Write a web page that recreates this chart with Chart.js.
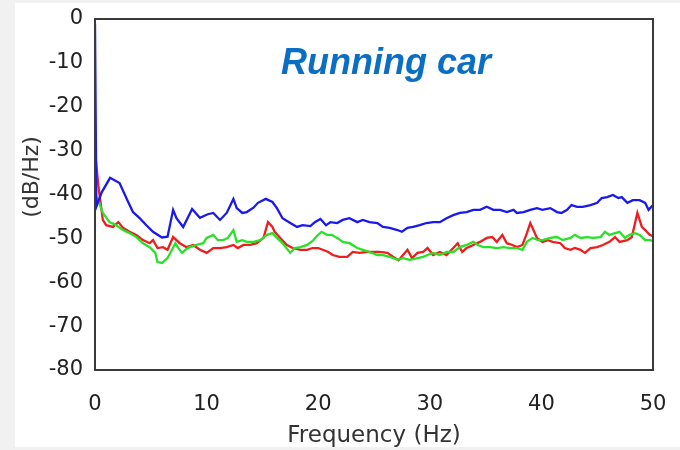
<!DOCTYPE html>
<html>
<head>
<meta charset="utf-8">
<script src="https://cdn.jsdelivr.net/npm/chart.js@4.4.1/dist/chart.umd.min.js"></script>
<style>
  html, body { margin: 0; padding: 0; background: #ffffff; }
  #wrap { width: 680px; height: 450px; }
</style>
</head>
<body>
<div id="wrap"><canvas id="c" width="680" height="450"></canvas></div>
<script>
// ---- data (frequency Hz, power dB/Hz) ----
const xTicks = [0, 10, 20, 30, 40, 50];
const yTicks = [0, -10, -20, -30, -40, -50, -60, -70, -80];
const chartTitle = 'Running car';
const xTitle = 'Frequency (Hz)';
const yTitle = '(dB/Hz)';

const blueSeries = [[0,-1],[0.12,-42.8],[0.6,-39.5],[1.35,-36.2],[2.2,-37.4],[2.9,-41.3],[3.4,-44.0],[4.0,-45.4],[4.6,-47.0],[5.2,-48.5],[6.0,-49.8],[6.5,-49.6],[7.0,-43.5],[7.3,-45.4],[7.9,-47.4],[8.7,-43.3],[9.4,-45.3],[10.1,-44.5],[10.6,-44.2],[11.2,-45.8],[11.8,-44.2],[12.4,-41.0],[12.7,-43.1],[13.2,-44.2],[13.6,-44.0],[14.2,-43.0],[14.6,-41.9],[15.3,-41.0],[15.9,-41.7],[16.3,-43.1],[16.8,-45.4],[17.5,-46.5],[18.1,-47.4],[18.6,-47.0],[19.3,-47.2],[19.7,-46.3],[20.2,-45.6],[20.7,-47.0],[21.1,-46.3],[21.7,-46.5],[22.2,-45.8],[22.8,-45.4],[23.5,-46.3],[24.0,-45.8],[24.6,-46.3],[25.3,-46.5],[25.8,-47.4],[26.4,-47.6],[27.1,-48.1],[27.5,-48.5],[28.0,-47.6],[28.5,-47.4],[29.1,-47.0],[29.7,-46.5],[30.3,-46.3],[30.9,-46.3],[31.5,-45.4],[32.1,-44.7],[32.7,-44.2],[33.3,-44.0],[33.9,-43.5],[34.5,-43.5],[35.1,-42.8],[35.7,-43.5],[36.3,-43.5],[36.9,-44.0],[37.5,-43.5],[37.8,-44.2],[38.4,-44.0],[39.0,-43.5],[39.6,-43.1],[40.1,-43.5],[40.8,-43.1],[41.4,-44.0],[41.8,-44.2],[42.3,-43.5],[42.7,-42.4],[43.2,-42.8],[43.7,-42.8],[44.4,-42.4],[45.0,-41.9],[45.4,-40.8],[45.9,-40.6],[46.4,-40.1],[46.9,-40.8],[47.2,-40.6],[47.7,-41.9],[48.2,-41.3],[48.8,-41.3],[49.3,-41.9],[49.6,-43.5],[50.0,-42.4]];

const greenSeries = [[0,-40.0],[0.3,-41.3],[0.7,-44.2],[1.3,-46.3],[1.9,-47.0],[2.5,-48.1],[3.1,-48.8],[3.7,-49.7],[4.3,-51.1],[4.9,-52.0],[5.4,-53.3],[5.6,-55.4],[6.0,-55.6],[6.5,-54.5],[6.9,-52.6],[7.2,-51.1],[7.4,-52.0],[7.8,-53.3],[8.1,-52.6],[8.5,-52.0],[9.1,-51.5],[9.7,-51.1],[10.0,-49.9],[10.6,-49.2],[11.0,-50.4],[11.5,-50.4],[11.9,-49.9],[12.4,-48.1],[12.7,-50.8],[13.2,-50.4],[13.6,-50.8],[14.2,-50.8],[14.8,-50.4],[15.4,-49.2],[15.9,-48.8],[16.3,-49.9],[16.8,-51.1],[17.5,-53.3],[17.9,-52.2],[18.4,-52.0],[19.0,-51.5],[19.5,-50.6],[19.9,-49.4],[20.3,-48.5],[20.8,-49.2],[21.2,-49.2],[21.7,-49.9],[22.2,-50.8],[22.8,-51.1],[23.5,-52.2],[24.0,-52.6],[24.6,-53.1],[25.3,-53.8],[25.8,-53.8],[26.4,-54.2],[27.1,-54.9],[27.6,-54.5],[28.2,-54.9],[28.9,-54.5],[29.4,-54.2],[29.8,-53.8],[30.3,-53.3],[30.9,-53.8],[31.5,-53.1],[32.1,-53.1],[32.7,-52.0],[33.3,-51.5],[33.9,-50.8],[34.3,-51.5],[34.8,-52.0],[35.4,-52.0],[36.0,-52.2],[36.6,-52.0],[37.2,-52.2],[37.8,-52.2],[38.3,-52.6],[38.7,-50.8],[39.2,-49.9],[39.7,-50.4],[40.1,-50.4],[40.8,-49.9],[41.4,-49.7],[41.9,-50.4],[42.6,-49.9],[43.0,-49.2],[43.5,-49.9],[44.1,-49.7],[44.6,-49.9],[45.3,-49.7],[45.7,-48.5],[46.1,-49.2],[46.6,-48.8],[47.0,-48.5],[47.5,-49.9],[47.9,-49.2],[48.4,-48.8],[48.8,-49.2],[49.3,-50.4],[49.7,-50.4],[50.0,-50.6]];

const redSeries = [[0,-30.0],[0.3,-38.0],[0.7,-45.8],[1.0,-47.0],[1.6,-47.4],[2.1,-46.3],[2.5,-47.6],[3.1,-48.5],[3.7,-49.2],[4.3,-50.4],[4.9,-51.1],[5.2,-50.4],[5.6,-52.2],[6.1,-52.0],[6.5,-52.6],[7.0,-49.7],[7.6,-51.1],[8.2,-52.0],[8.8,-51.5],[9.4,-52.6],[10.0,-53.3],[10.6,-52.2],[11.2,-52.2],[11.8,-52.0],[12.4,-51.5],[12.8,-52.2],[13.3,-51.5],[13.9,-51.5],[14.5,-51.1],[15.1,-49.9],[15.5,-46.3],[15.9,-47.4],[16.1,-48.5],[16.6,-49.9],[17.2,-51.5],[17.7,-52.2],[18.4,-52.6],[19.0,-52.6],[19.5,-52.2],[20.0,-52.2],[20.4,-52.6],[20.9,-53.1],[21.3,-53.8],[21.9,-54.2],[22.6,-54.2],[23.1,-53.1],[23.7,-53.3],[24.4,-53.1],[24.9,-53.1],[25.5,-53.1],[26.2,-53.3],[26.7,-54.2],[27.2,-55.0],[27.6,-53.8],[28.0,-52.6],[28.4,-54.5],[28.9,-53.3],[29.4,-53.1],[29.8,-52.2],[30.3,-53.8],[30.9,-53.1],[31.5,-53.8],[32.1,-52.2],[32.5,-51.1],[32.9,-53.1],[33.3,-52.2],[33.9,-51.5],[34.5,-50.8],[35.1,-49.9],[35.6,-49.7],[36.0,-50.8],[36.5,-49.2],[36.9,-51.1],[37.4,-51.5],[37.8,-52.0],[38.3,-51.5],[38.7,-48.8],[39.0,-46.5],[39.2,-47.6],[39.6,-49.9],[40.1,-50.8],[40.6,-50.4],[41.0,-50.8],[41.7,-51.1],[42.1,-52.2],[42.6,-52.6],[43.0,-52.2],[43.5,-52.6],[43.9,-53.3],[44.4,-52.2],[45.0,-52.0],[45.5,-51.5],[46.1,-50.8],[46.6,-49.7],[47.0,-50.8],[47.7,-50.4],[48.1,-49.7],[48.6,-44.2],[49.0,-47.4],[49.3,-48.1],[49.7,-49.2],[50.0,-49.5]];

const toPoints = s => s.map(p => ({x: p[0], y: p[1]}));

const tickFont = {family: "'DejaVu Sans', 'Liberation Sans', Arial, sans-serif", size: 21};

const bgPlugin = {
  id: 'bg',
  beforeDraw(chart) {
    const ctx = chart.ctx;
    ctx.save();
    ctx.fillStyle = '#f1f1f1';
    ctx.fillRect(0, 0, chart.width, chart.height);
    ctx.fillStyle = '#ffffff';
    ctx.fillRect(15, 3, chart.width - 15, chart.height - 6);
    ctx.restore();
  }
};

const framePlugin = {
  id: 'frame',
  afterDatasetsDraw(chart) {
    const {ctx, chartArea: a} = chart;
    ctx.save();
    ctx.strokeStyle = '#3a3a3a';
    ctx.lineWidth = 2;
    ctx.strokeRect(a.left, a.top, a.right - a.left, a.bottom - a.top);
    ctx.restore();
  },
  afterDraw(chart) {
    const ctx = chart.ctx;
    ctx.save();
    // in-plot title
    ctx.fillStyle = '#0a6fc4';
    ctx.font = "italic bold 36px 'Liberation Sans', Arial, sans-serif";
    ctx.textAlign = 'center';
    ctx.textBaseline = 'alphabetic';
    ctx.fillText(chartTitle, 386, 74);
    // y axis title
    ctx.fillStyle = '#333333';
    ctx.font = "22px 'DejaVu Sans', 'Liberation Sans', sans-serif";
    ctx.translate(32, 177);
    ctx.rotate(-Math.PI / 2);
    ctx.textBaseline = 'middle';
    ctx.fillText(yTitle, 0, 0);
    ctx.restore();
  }
};

new Chart(document.getElementById('c'), {
  type: 'line',
  data: {
    datasets: [
      {data: toPoints(blueSeries), borderColor: 'rgb(25,25,235)', borderWidth: 2.3},
      {data: toPoints(greenSeries), borderColor: 'rgb(40,225,40)', borderWidth: 2.3},
      {data: toPoints(redSeries), borderColor: 'rgb(238,30,30)', borderWidth: 2.3}
    ]
  },
  options: {
    responsive: false,
    animation: false,
    elements: {point: {radius: 0}, line: {tension: 0}},
    layout: {padding: {left: 0, right: 27, top: 19, bottom: 0}},
    plugins: {legend: {display: false}, tooltip: {enabled: false}, title: {display: false}},
    scales: {
      x: {
        type: 'linear', min: 0, max: 50,
        afterBuildTicks(s) { s.ticks = xTicks.map(v => ({value: v})); },
        ticks: {font: tickFont, color: '#222', padding: 22, maxRotation: 0},
        grid: {display: false, drawTicks: false},
        border: {display: false},
        title: {display: true, text: xTitle, font: {family: tickFont.family, size: 23}, color: '#333', padding: 0},
        afterFit(s) { s.height = 80; s.paddingLeft = 0; s.paddingRight = 0; }
      },
      y: {
        type: 'linear', min: -80, max: 0,
        afterBuildTicks(s) { s.ticks = yTicks.map(v => ({value: v})); },
        ticks: {font: tickFont, color: '#222', padding: 12},
        grid: {display: false, drawTicks: false},
        border: {display: false},
        afterFit(s) { s.width = 95; s.paddingTop = 0; s.paddingBottom = 0; }
      }
    }
  },
  plugins: [bgPlugin, framePlugin]
});
</script>
</body>
</html>
